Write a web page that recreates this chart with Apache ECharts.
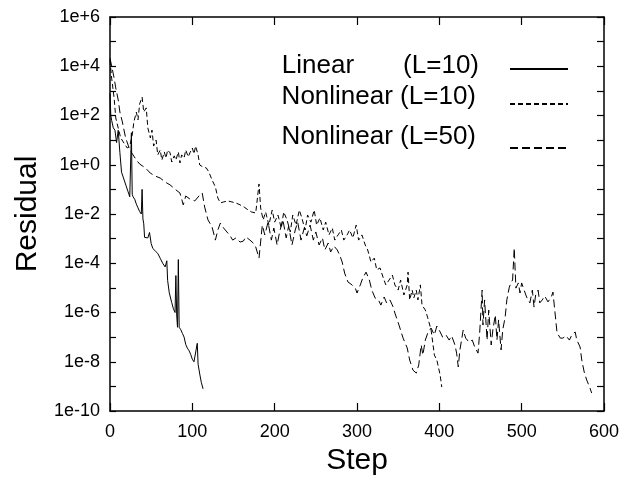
<!DOCTYPE html>
<html>
<head>
<meta charset="utf-8">
<script src="https://cdn.jsdelivr.net/npm/echarts@6/dist/echarts.min.js"></script>
<style>
html,body{margin:0;padding:0;background:#fff;}
#chart{width:622px;height:481px;}
</style>
</head>
<body>
<div id="chart"></div>
<script>
// Data: [step, log10(residual)]
const seriesNames = ['Linear (L=10)', 'Nonlinear (L=10)', 'Nonlinear (L=50)'];

const linearData = [[0,2.9],[1,2.0],[2,1.8],[4,1.5],[6,1.4],[8,0.9],[10,1.4],[12,0.5],[14,-0.3],[16,-0.5],
[18,-0.7],[20,-0.9],[22,-1.1],[24,-1.3],[26,1.3],[27,-1.2],[28,-1.3],[30,-1.4],[32,-1.6],[34,-1.75],
[36,-1.9],[38,-2.0],[39,-1.0],[40,-2.2],[41,-2.4],[42,-2.95],[44,-2.95],[46,-2.97],[48,-2.75],[50,-3.2],
[52,-3.4],[55,-3.5],[58,-3.6],[61,-3.8],[64,-4.0],[67,-4.15],[69,-3.9],[70,-4.7],[72,-5.2],[75,-5.6],
[77,-5.85],[79,-6.0],[80,-4.5],[81,-6.1],[82,-6.6],[83,-3.85],[84,-6.6],[86,-6.7],[88,-6.85],[90,-7.0],
[92,-7.3],[94,-7.45],[96,-7.55],[98,-7.7],[100,-7.9],[102,-8.0],[104,-8.0],[106,-7.25],[107,-8.1],[109,-8.5],
[111,-8.85],[113,-9.1]];

const nonlinear10Data = [[0,4.25],[2,3.52],[5,2.71],[7,1.90],[10,1.49],[13,1.09],[17,0.88],[21,0.68],[24,0.76],[27,1.21],
[29,1.74],[32,2.14],[34,1.82],[36,2.47],[39,2.75],[41,2.14],[44,2.31],[46,1.49],[49,1.09],[51,1.41],
[53,0.76],[56,1.00],[58,0.40],[61,0.60],[63,0.19],[66,0.52],[68,0.27],[70,0.60],[73,0.48],[75,0.11],
[78,0.36],[80,0.19],[83,0.52],[85,0.07],[87,0.40],[90,0.27],[92,0.60],[95,0.32],[97,0.48],[100,0.68],
[102,0.44],[104,0.76],[107,0.40],[109,-0.01],[113,-0.09],[117,-0.13],[120,-0.29],[124,-0.62],[128,-0.90],[131,-1.35],
[134,-1.55],[138,-1.51],[143,-1.47],[148,-1.51],[153,-1.55],[158,-1.63],[163,-1.72],[168,-1.84],[172,-1.92],[177,-1.96],
[181,-0.78],[183,-1.76],[186,-2.24],[189,-1.92],[193,-2.45],[197,-1.84],[200,-2.33],[204,-2.04],[208,-2.57],[211,-1.92],
[215,-2.24],[219,-2.73],[222,-2.04],[226,-2.45],[230,-1.84],[233,-2.16],[237,-2.65],[240,-2.04],[244,-2.33],[248,-1.84],
[251,-2.45],[255,-2.16],[259,-2.65],[262,-2.33],[266,-2.85],[270,-2.57],[273,-3.06],[277,-2.85],[281,-2.65],[284,-3.06],
[288,-2.85],[291,-2.65],[295,-2.97],[299,-2.45],[302,-3.06],[306,-2.85],[310,-3.26],[313,-3.46],[317,-3.95],[321,-3.79],
[324,-4.27],[328,-4.19],[332,-4.60],[335,-4.88],[339,-4.68],[343,-4.48],[346,-4.88],[350,-5.09],[353,-4.68],[357,-5.29],
[361,-4.88],[362,-4.36],[364,-5.49],[367,-5.09],[369,-5.41],[372,-5.09],[374,-5.49],[377,-4.88],[379,-5.70],[383,-5.90],
[386,-6.22],[390,-6.71],[394,-7.73],[397,-7.93],[401,-8.54],[403,-9.03]];

const nonlinear50Data = [[0,4.33],[2,4.01],[5,3.52],[7,3.12],[10,2.63],[12,2.14],[15,1.74],[17,1.41],[19,1.09],[22,0.80],
[24,0.60],[28,0.40],[32,0.19],[36,0.03],[43,-0.13],[49,-0.34],[55,-0.46],[61,-0.54],[67,-0.70],[73,-0.82],
[79,-0.99],[85,-1.15],[89,-1.63],[92,-1.27],[97,-1.39],[103,-1.47],[109,-1.23],[112,-1.15],[115,-1.72],[119,-2.24],
[124,-2.53],[128,-3.06],[131,-2.65],[134,-2.37],[138,-2.57],[142,-2.73],[146,-2.89],[149,-3.06],[153,-2.97],[158,-3.14],
[162,-3.10],[165,-2.93],[170,-3.06],[174,-3.18],[177,-3.34],[181,-3.79],[185,-2.45],[188,-2.85],[192,-2.33],[196,-3.06],
[199,-2.57],[203,-3.26],[206,-2.73],[210,-2.24],[214,-2.97],[217,-2.49],[221,-3.26],[225,-2.65],[228,-2.33],[232,-3.06],
[236,-2.57],[239,-2.89],[243,-2.45],[247,-3.06],[250,-2.73],[254,-3.26],[258,-2.97],[261,-3.46],[265,-3.18],[268,-3.54],
[272,-3.30],[276,-3.46],[279,-3.67],[282,-3.95],[285,-4.40],[289,-4.76],[294,-4.88],[298,-5.01],[300,-5.21],[304,-4.88],
[307,-4.60],[311,-4.36],[315,-4.68],[318,-5.09],[322,-5.41],[326,-5.49],[329,-5.70],[333,-5.37],[336,-5.61],[340,-5.49],
[344,-5.78],[346,-6.02],[351,-6.51],[356,-7.04],[361,-7.44],[364,-7.93],[368,-8.34],[372,-8.46],[375,-8.13],[378,-7.32],
[380,-7.73],[383,-7.12],[386,-6.83],[390,-6.63],[394,-6.91],[397,-6.55],[401,-6.79],[404,-7.00],[408,-6.91],[412,-7.12],
[415,-6.95],[419,-7.32],[421,-7.65],[423,-8.21],[425,-7.52],[429,-6.71],[432,-7.04],[436,-7.20],[440,-7.12],[443,-7.40],
[447,-7.65],[449,-6.83],[452,-5.09],[453,-6.51],[455,-5.49],[458,-7.12],[460,-5.90],[463,-7.32],[465,-6.71],[468,-6.10],
[470,-7.12],[472,-6.30],[475,-7.52],[477,-6.71],[480,-6.18],[482,-5.49],[485,-4.97],[487,-4.80],[489,-4.68],[491,-3.38],
[493,-5.01],[496,-4.80],[498,-5.21],[500,-4.80],[503,-5.09],[506,-5.37],[510,-5.61],[513,-5.09],[515,-5.78],[517,-5.29],
[520,-5.09],[522,-5.61],[525,-5.49],[528,-5.33],[532,-5.57],[536,-5.37],[538,-5.17],[540,-5.09],[543,-6.83],[547,-7.04],
[550,-7.04],[554,-6.95],[558,-7.12],[561,-6.91],[565,-6.79],[567,-7.12],[571,-7.40],[573,-7.93],[576,-8.42],[579,-8.74],
[583,-9.07],[585,-9.27]];

const xTicks = [0, 100, 200, 300, 400, 500, 600];
const yExponentRange = [-10, 6];

const FONT = '"Liberation Sans", Arial, Helvetica, sans-serif';
const chart = echarts.init(document.getElementById('chart'), null, {renderer: 'canvas'});

function yLabel(v) {
  const e = Math.round(v);
  if (e % 2 !== 0) return '';
  return e >= 0 ? '1e+' + e : '1e' + e;
}

const axisLineStyle = {color: '#000', width: 1.5};
const tickStyle = {color: '#000', width: 1.2};

function legendFor(i, top, formatter, padBottom, padRight) {
  return {
    data: [seriesNames[i]],
    right: 53, top: top, padding: 0,
    align: 'right', itemWidth: 58, itemHeight: 10,
    selectedMode: false,
    itemStyle: {opacity: 0},
    formatter: formatter,
    textStyle: {
      color: '#000', fontFamily: FONT, fontSize: 26,
      rich: {
        a: {fontSize: 26, fontFamily: FONT, color: '#000', padding: [0, 49, padBottom, 0]},
        b: {fontSize: 26, fontFamily: FONT, color: '#000', padding: [0, padRight, padBottom, 0]}
      }
    }
  };
}

const option = {
  animation: false,
  backgroundColor: '#fff',
  grid: {left: 110, right: 18, top: 17, bottom: 70, containLabel: false},
  legend: [
    legendFor(0, 53, function () { return '{a|Linear}{b|(L=10)}'; }, 6, 26),
    legendFor(1, 84, function (n) { return '{b|' + n + '}'; }, 14, 29),
    legendFor(2, 124, function (n) { return '{b|' + n + '}'; }, 22, 29)
  ],
  xAxis: [{
    type: 'value', min: xTicks[0], max: xTicks[xTicks.length - 1], interval: 100,
    position: 'bottom',
    name: 'Step', nameLocation: 'middle', nameGap: 32,
    nameTextStyle: {color: '#000', fontSize: 30, fontFamily: FONT},
    axisLine: {show: true, onZero: false, lineStyle: axisLineStyle},
    axisTick: {show: true, inside: true, length: 8, lineStyle: tickStyle},
    axisLabel: {color: '#000', fontSize: 18, fontFamily: FONT, margin: 12},
    splitLine: {show: false}
  }, {
    type: 'value', min: xTicks[0], max: xTicks[xTicks.length - 1], interval: 100,
    position: 'top',
    axisLine: {show: true, onZero: false, lineStyle: axisLineStyle},
    axisTick: {show: true, inside: true, length: 8, lineStyle: tickStyle},
    axisLabel: {show: false},
    splitLine: {show: false}
  }],
  yAxis: [{
    type: 'value', min: yExponentRange[0], max: yExponentRange[1], interval: 1,
    position: 'left',
    name: 'Residual', nameLocation: 'middle', nameGap: 66, nameRotate: 90,
    nameTextStyle: {color: '#000', fontSize: 30, fontFamily: FONT},
    axisLine: {show: true, onZero: false, lineStyle: axisLineStyle},
    axisTick: {show: true, inside: true, length: 6, lineStyle: tickStyle},
    axisLabel: {color: '#000', fontSize: 18, fontFamily: FONT, margin: 10, formatter: yLabel},
    splitLine: {show: false}
  }, {
    type: 'value', min: yExponentRange[0], max: yExponentRange[1], interval: 1,
    position: 'right',
    axisLine: {show: true, onZero: false, lineStyle: axisLineStyle},
    axisTick: {show: true, inside: true, length: 7, lineStyle: tickStyle},
    axisLabel: {show: false},
    splitLine: {show: false}
  }],
  series: [{
    name: seriesNames[0], type: 'line', data: linearData, showSymbol: false, symbol: 'none',
    lineStyle: {color: '#000', width: 1, type: 'solid'}, itemStyle: {color: '#000'}
  }, {
    name: seriesNames[1], type: 'line', data: nonlinear10Data, showSymbol: false, symbol: 'none',
    lineStyle: {color: '#000', width: 1, type: [5, 3]}, itemStyle: {color: '#000'}
  }, {
    name: seriesNames[2], type: 'line', data: nonlinear50Data, showSymbol: false, symbol: 'none',
    lineStyle: {color: '#000', width: 1, type: [8, 4]}, itemStyle: {color: '#000'}
  }]
};
chart.setOption(option);
</script>
</body>
</html>
